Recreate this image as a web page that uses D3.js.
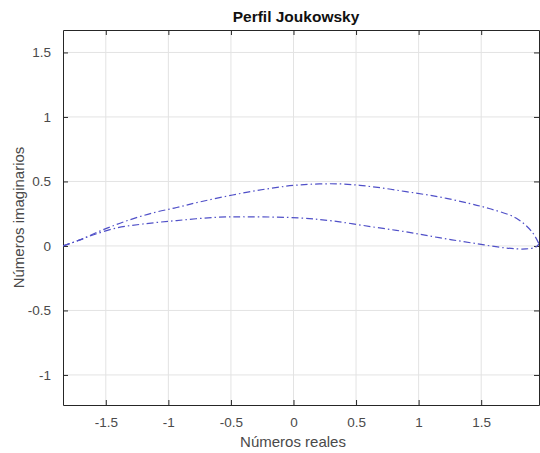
<!DOCTYPE html>
<html>
<head>
<meta charset="utf-8">
<script src="https://cdn.jsdelivr.net/npm/d3@7"></script>
<style>
  html, body { margin: 0; padding: 0; background: #fff; }
  svg { display: block; }
  text { font-family: "Liberation Sans", Arial, Helvetica, sans-serif; }
</style>
</head>
<body>
<svg id="chart" width="540" height="453"></svg>
<script>
// ---- data ----
const chartTitle = "Perfil Joukowsky";
const xLabel = "Números reales";
const yLabel = "Números imaginarios";

const xTicks = [-1.5, -1, -0.5, 0, 0.5, 1, 1.5];
const yTicks = [-1, -0.5, 0, 0.5, 1, 1.5];
const xTickLabels = ["-1.5", "-1", "-0.5", "0", "0.5", "1", "1.5"];
const yTickLabels = ["-1", "-0.5", "0", "0.5", "1", "1.5"];

const xDomain = [-1.842, 1.962];
const yDomain = [-1.233, 1.674];

// upper surface of the profile (left to right)
const upperX = [-1.842, -1.707, -1.523, -1.332, -1.124, -0.933, -0.75, -0.486, -0.215, 0.048, 0.367, 0.63, 0.90, 1.164, 1.403, 1.563, 1.778, 1.906, 1.962];
const upperY = [0, 0.047, 0.125, 0.195, 0.256, 0.298, 0.341, 0.395, 0.442, 0.473, 0.481, 0.459, 0.421, 0.38, 0.33, 0.29, 0.217, 0.109, 0.016];

// lower surface of the profile (left to right)
const lowerX = [-1.842, -1.707, -1.603, -1.411, -1.204, -0.933, -0.614, -0.351, 0.048, 0.311, 0.63, 0.90, 1.164, 1.427, 1.699, 1.858, 1.938, 1.962];
const lowerY = [0, 0.047, 0.085, 0.14, 0.17, 0.197, 0.222, 0.226, 0.217, 0.194, 0.148, 0.109, 0.064, 0.023, -0.016, -0.023, -0.008, 0.016];

// ---- layout ----
const svg = d3.select("#chart");
const L = 63, R = 539, T = 30, B = 405;
const axisColor = "#262626";
const gridColor = "#e3e3e3";
const tickFont = 13.5;

const x = d3.scaleLinear().domain(xDomain).range([L, R]);
const y = d3.scaleLinear().domain(yDomain).range([B, T]);

svg.append("defs").append("clipPath").attr("id", "clip")
  .append("rect").attr("x", L).attr("y", T).attr("width", R - L).attr("height", B - T);

// grid
const grid = svg.append("g");
grid.selectAll("line.gx").data(xTicks).enter().append("line")
  .attr("x1", d => x(d)).attr("x2", d => x(d)).attr("y1", T).attr("y2", B)
  .attr("stroke", gridColor).attr("stroke-width", 1);
grid.selectAll("line.gy").data(yTicks).enter().append("line")
  .attr("y1", d => y(d)).attr("y2", d => y(d)).attr("x1", L).attr("x2", R)
  .attr("stroke", gridColor).attr("stroke-width", 1);

// axes (ticks inside, box on)
const axBottom = svg.append("g").attr("transform", `translate(0,${B})`)
  .call(d3.axisBottom(x).tickValues(xTicks).tickSizeInner(-5).tickSizeOuter(0)
    .tickFormat((d, i) => xTickLabels[i]).tickPadding(12));
const axTop = svg.append("g").attr("transform", `translate(0,${T})`)
  .call(d3.axisTop(x).tickValues(xTicks).tickSizeInner(-5).tickSizeOuter(0).tickFormat(""));
const axLeft = svg.append("g").attr("transform", `translate(${L},0)`)
  .call(d3.axisLeft(y).tickValues(yTicks).tickSizeInner(-5).tickSizeOuter(0)
    .tickFormat((d, i) => yTickLabels[i]).tickPadding(12));
const axRight = svg.append("g").attr("transform", `translate(${R},0)`)
  .call(d3.axisRight(y).tickValues(yTicks).tickSizeInner(-5).tickSizeOuter(0).tickFormat(""));

[axBottom, axTop, axLeft, axRight].forEach(g => {
  g.select(".domain").attr("stroke", axisColor).attr("stroke-width", 1);
  g.selectAll(".tick line").attr("stroke", axisColor).attr("stroke-width", 1);
  g.selectAll(".tick text").attr("fill", "#4a4a4a")
    .style("font-size", tickFont + "px")
    .style("font-family", '"Liberation Sans", Arial, sans-serif');
});

// curves
const line = d3.line().x(d => x(d[0])).y(d => y(d[1])).curve(d3.curveCatmullRom.alpha(0.5));
const plot = svg.append("g").attr("clip-path", "url(#clip)");
const upperPts = upperX.map((v, i) => [v, upperY[i]]);
const lowerPts = lowerX.map((v, i) => [v, lowerY[i]]);
[upperPts, lowerPts].forEach(pts => {
  plot.append("path").datum(pts).attr("d", line)
    .attr("fill", "none").attr("stroke", "#5050c8").attr("stroke-width", 1.2)
    .attr("stroke-dasharray", "7,3,1.5,3");
});

// title and labels
svg.append("text").attr("x", 296).attr("y", 22).attr("text-anchor", "middle")
  .style("font-size", "15.5px").style("font-weight", "bold").attr("fill", "#111")
  .text(chartTitle);
svg.append("text").attr("x", 293).attr("y", 447).attr("text-anchor", "middle")
  .style("font-size", "15px").attr("fill", "#4a4a4a").text(xLabel);
svg.append("text").attr("transform", `translate(24,${(T + B) / 2}) rotate(-90)`)
  .attr("text-anchor", "middle")
  .style("font-size", "15px").attr("fill", "#4a4a4a").text(yLabel);
</script>
</body>
</html>
